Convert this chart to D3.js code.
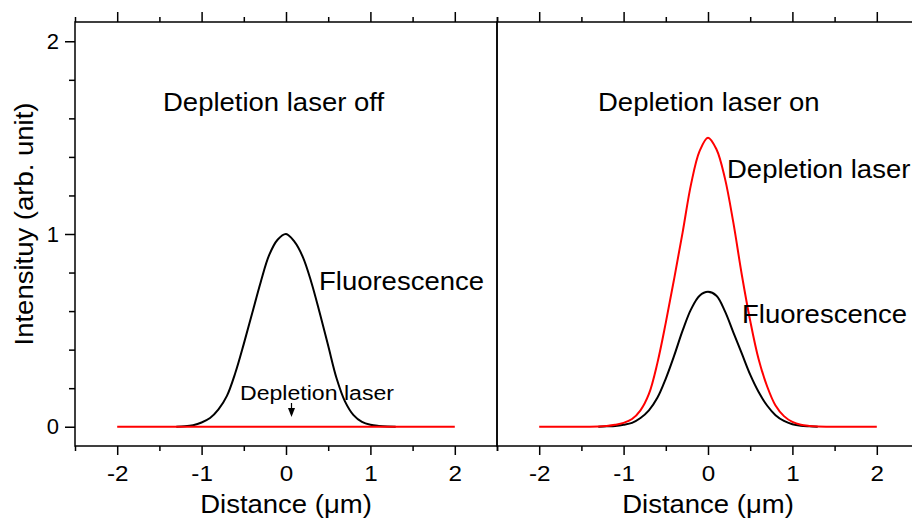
<!DOCTYPE html>
<html>
<head>
<meta charset="utf-8">
<script src="https://cdn.jsdelivr.net/npm/d3@7"></script>
<style>
  body { margin: 0; background: #fff; }
  text { font-family: "Liberation Sans", Arial, sans-serif; fill: #000; }
  .axis path, .axis line { stroke: #000; stroke-width: 1.5; }
</style>
</head>
<body>
<div class="chart"></div>
<script>
var svgWidth = 912;
var svgHeight = 523;

// x positions (um) and intensities
var offFluoX = [-1.3, -1.2, -1.1, -1.0, -0.9, -0.8, -0.7, -0.6, -0.5, -0.4, -0.3, -0.2, -0.1, 0,
  0.1, 0.2, 0.3, 0.4, 0.5, 0.6, 0.7, 0.8, 0.9, 1.0, 1.1, 1.2, 1.3];
var offFluoY = [0, 0.002, 0.008, 0.022, 0.045, 0.09, 0.16, 0.28, 0.43, 0.59, 0.75, 0.89, 0.97, 1.0,
  0.96, 0.88, 0.75, 0.59, 0.42, 0.25, 0.13, 0.06, 0.025, 0.01, 0.004, 0.001, 0];

var offDeplX = [-2, 2];
var offDeplY = [0, 0];

var onFluoX = offFluoX;
var onFluoY = [0, 0.002, 0.004, 0.01, 0.02, 0.045, 0.085, 0.15, 0.25, 0.37, 0.50, 0.61, 0.68, 0.70,
  0.68, 0.60, 0.49, 0.38, 0.27, 0.18, 0.11, 0.06, 0.03, 0.013, 0.005, 0.002, 0];

var onDeplX = [-2, -1.9, -1.8, -1.7, -1.6, -1.5, -1.4, -1.3, -1.2, -1.1, -1.0, -0.9, -0.8, -0.7,
  -0.6, -0.5, -0.4, -0.3, -0.2, -0.1, 0, 0.1, 0.2, 0.3, 0.4, 0.5, 0.6, 0.7, 0.8, 0.9, 1.0,
  1.1, 1.2, 1.3, 1.4, 1.5, 1.6, 1.7, 1.8, 1.9, 2];
var onDeplY = [0, 0, 0, 0, 0, 0, 0, 0.001, 0.004, 0.01, 0.02, 0.04, 0.085, 0.17,
  0.33, 0.54, 0.77, 1.01, 1.26, 1.43, 1.5, 1.44, 1.29, 1.06, 0.79, 0.55, 0.35, 0.21, 0.11, 0.055, 0.025,
  0.01, 0.004, 0.001, 0, 0, 0, 0, 0, 0, 0];

var xMajor = [-2, -1, 0, 1, 2];
var xMinor = [-2.5, -1.5, -0.5, 0.5, 1.5, 2.5];
var yMajor = [0, 1, 2];
var yMinor = [0.2, 0.4, 0.6, 0.8, 1.2, 1.4, 1.6, 1.8];

var margin = { top: 22, left: 75, bottom: 77 };
var panelWidth = 422;
var plotTop = margin.top;
var plotBottom = svgHeight - margin.bottom;
var stretch = 1.1; // glyphs in the original are a bit wider than Arial

var svg = d3.select(".chart")
  .append("svg")
  .attr("width", svgWidth)
  .attr("height", svgHeight);

var yScale = d3.scaleLinear()
  .domain([-0.1, 2.1])
  .range([plotBottom, plotTop]);

var xLeft = d3.scaleLinear()
  .domain([-2.5, 2.5])
  .range([margin.left, margin.left + panelWidth]);

var xRight = d3.scaleLinear()
  .domain([-2.5, 2.5])
  .range([margin.left + panelWidth, margin.left + 2 * panelWidth]);

function zip(xs, ys) {
  return xs.map(function(x, i) { return [x, ys[i]]; });
}

// plain hyphen minus like the original
var fmt = function(d) { return String(d); };

function label(g, x, y, size, str) {
  return g.append("text")
    .attr("transform", "translate(" + x + "," + y + ") scale(" + stretch + ",1)")
    .style("font-size", size + "px")
    .text(str);
}

function drawPanel(x, series) {
  var g = svg.append("g");

  // frame
  g.append("rect")
    .attr("x", x.range()[0])
    .attr("y", plotTop)
    .attr("width", panelWidth)
    .attr("height", plotBottom - plotTop)
    .attr("fill", "none")
    .attr("stroke", "#000")
    .attr("stroke-width", 1.5);

  // bottom axis, major + minor
  g.append("g")
    .attr("class", "axis")
    .attr("transform", "translate(0," + plotBottom + ")")
    .call(d3.axisBottom(x).tickValues(xMajor).tickSize(9).tickSizeOuter(0).tickPadding(10).tickFormat(fmt))
    .call(function(a) { a.select(".domain").remove(); })
    .selectAll("text")
      .style("font-size", "22px")
      .attr("transform", "scale(" + stretch + ",1)");

  g.append("g")
    .attr("class", "axis")
    .attr("transform", "translate(0," + plotBottom + ")")
    .call(d3.axisBottom(x).tickValues(xMinor).tickSize(5).tickSizeOuter(0).tickFormat(""))
    .call(function(a) { a.select(".domain").remove(); });

  // top axis, ticks only
  g.append("g")
    .attr("class", "axis")
    .attr("transform", "translate(0," + plotTop + ")")
    .call(d3.axisTop(x).tickValues(xMajor).tickSize(10).tickSizeOuter(0).tickFormat(""))
    .call(function(a) { a.select(".domain").remove(); });

  g.append("g")
    .attr("class", "axis")
    .attr("transform", "translate(0," + plotTop + ")")
    .call(d3.axisTop(x).tickValues(xMinor).tickSize(5).tickSizeOuter(0).tickFormat(""))
    .call(function(a) { a.select(".domain").remove(); });

  var line = d3.line()
    .x(function(d) { return x(d[0]); })
    .y(function(d) { return yScale(d[1]); })
    .curve(d3.curveCatmullRom.alpha(0.5));

  series.forEach(function(s) {
    g.append("path")
      .datum(s.data)
      .attr("d", line)
      .attr("fill", "none")
      .attr("stroke", s.color)
      .attr("stroke-width", 2);
  });

  label(g, x(0), 513, 25, "Distance (\u03bcm)")
    .attr("text-anchor", "middle");

  return g;
}

var left = drawPanel(xLeft, [
  { data: zip(offFluoX, offFluoY), color: "#000" },
  { data: zip(offDeplX, offDeplY), color: "#ff0000" }
]);

var right = drawPanel(xRight, [
  { data: zip(onFluoX, onFluoY), color: "#000" },
  { data: zip(onDeplX, onDeplY), color: "#ff0000" }
]);

// left y axis
svg.append("g")
  .attr("class", "axis")
  .attr("transform", "translate(" + margin.left + ",0)")
  .call(d3.axisLeft(yScale).tickValues(yMajor).tickSize(10).tickSizeOuter(0).tickPadding(6).tickFormat(fmt))
  .call(function(a) { a.select(".domain").remove(); })
  .selectAll("text")
    .style("font-size", "22px");

svg.append("g")
  .attr("class", "axis")
  .attr("transform", "translate(" + margin.left + ",0)")
  .call(d3.axisLeft(yScale).tickValues(yMinor).tickSize(6).tickSizeOuter(0).tickFormat(""))
  .call(function(a) { a.select(".domain").remove(); });

svg.append("text")
  .attr("transform", "translate(33,224) rotate(-90) scale(" + stretch + ",1)")
  .attr("text-anchor", "middle")
  .style("font-size", "25px")
  .text("Intensituy (arb. unit)");

// annotations
label(left, 163, 111, 25, "Depletion laser off");
label(left, 319, 290, 25, "Fluorescence");
label(left, 240, 400, 21, "Depletion laser");

left.append("line")
  .attr("x1", 291.5).attr("y1", 403)
  .attr("x2", 291.5).attr("y2", 410)
  .attr("stroke", "#000")
  .attr("stroke-width", 1.2);
left.append("path")
  .attr("d", "M288,408L295,408L291.5,417Z")
  .attr("fill", "#000");

label(right, 598, 111, 25, "Depletion laser on");
label(right, 727, 178, 25, "Depletion laser");
label(right, 742, 323, 25, "Fluorescence");
</script>
</body>
</html>
